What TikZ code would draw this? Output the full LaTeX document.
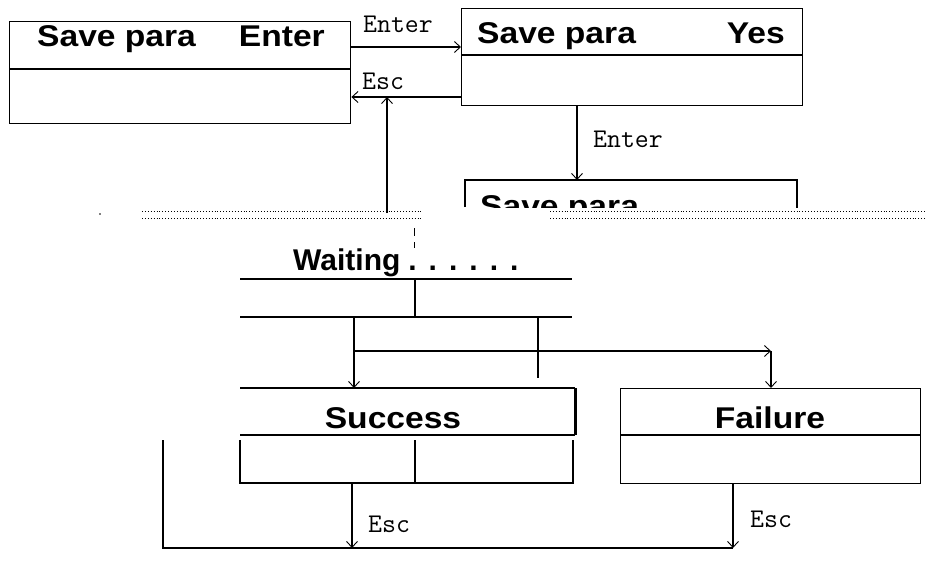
\documentclass[tikz,border=0pt]{standalone}
\usepackage{fontspec}
\setmainfont{Liberation Sans}
\newfontfamily\bigf[FakeStretch=1.12]{Liberation Sans}
\newfontfamily\dotsf[LetterSpace=40]{Liberation Sans}
\usetikzlibrary{arrows.meta}
\begin{document}
\begin{tikzpicture}[x=1pt,y=-1pt,
  boxline/.style={line width=1.4pt},
  conn/.style={line width=1.1pt},
  arr/.style={conn,-{Straight Barb[length=6pt,width=11pt,line width=0.9pt]}},
  big/.style={font=\bigf\fontsize{30}{30}\selectfont\bfseries, inner sep=0pt},
  wait/.style={font=\fontsize{30}{30}\selectfont\bfseries, inner sep=0pt},
  lbl/.style={font=\ttfamily\fontsize{27}{27}\selectfont, inner sep=0pt},
  dotl/.style={line width=0.9pt, dotted}]
\useasboundingbox (0,0) rectangle (926,560);
% box 1
\node[draw, boxline, minimum width=341pt, minimum height=102pt, inner sep=0pt, anchor=north west] (b1) at (9,21) {};
\draw[boxline] (b1.west |- 0,69) -- (b1.east |- 0,69);
\node[big, anchor=base west] (t1a) at (37,46) {Save para};
\node[big, anchor=base east] (t1b) at (325,46) {Enter};
% box 2
\node[draw, boxline, minimum width=341pt, minimum height=97pt, inner sep=0pt, anchor=north west] (b2) at (461,8) {};
\draw[boxline] (b2.west |- 0,55) -- (b2.east |- 0,55);
\node[big, anchor=base west] (t2a) at (477,43) {Save para};
\node[big, anchor=base east] (t2b) at (785,43) {Yes};
% box 1 <-> box 2
\draw[arr] (b1.east |- 0,47) -- (b2.west |- 0,47);
\node[lbl, anchor=base] (le1) at (398,32) {Enter};
\draw[arr] (b2.west |- 0,97) -- (b1.east |- 0,97);
\node[lbl, anchor=base west] (le2) at (362,89) {Esc};
\coordinate (upst) at (387,213);
\coordinate (upen) at (387,97);
\draw[arr] (upst) -- (upen);
% box 3 (cut)
\coordinate (b3top) at (577,180);
\draw[arr] (b2.south -| b3top) -- (b3top);
\node[lbl, anchor=base west] (le3) at (593,147) {Enter};
\draw[boxline] (465,207) -- (465,180) -- (797,180) -- (797,208);
\begin{scope}
\clip (465,180) rectangle (797,207);
\node[big, anchor=base west] (t3) at (480,216) {Save para};
\end{scope}
% dotted band
\draw[dotl] (142,211) -- (423,211);
\draw[dotl] (142,218) -- (423,218);
\draw[dotl] (550,211) -- (926,211);
\draw[dotl] (550,218) -- (926,218);
\fill (100,214) circle (0.8pt);
\draw[line width=1pt] (414,228) -- (414,236);
\draw[line width=1pt] (414,242) -- (414,248);
% waiting
\node[wait, anchor=base west] (tw) at (293,270) {Waiting\hspace{8pt}{\dotsf ......}};
\draw[boxline] (240,279) -- (572,279);
\draw[boxline] (240,317) -- (572,317);
\draw[conn] (415,279) -- (415,317);
% success box
\node[inner sep=0pt, minimum width=335pt, minimum height=95pt, anchor=north west] (sb) at (240,388) {};
\draw[boxline] (sb.north west) -- (sb.north east);
\draw[line width=2.6pt] (sb.north east) -- (sb.east |- 0,435);
\draw[boxline] (sb.west |- 0,435) -- (sb.east |- 0,435);
\draw[boxline] (240,440) -- (240,483) -- (573,483) -- (573,440);
\draw[conn] (415,440) -- (415,483);
\node[big, anchor=base] (ts) at (393,428) {Success};
% failure box
\node[draw, boxline, inner sep=0pt, minimum width=300pt, minimum height=95pt, anchor=north west] (fb) at (620,388) {};
\draw[boxline] (fb.west |- 0,435) -- (fb.east |- 0,435);
\node[big, anchor=base] (tf) at (770,428) {Failure};
% branches
\coordinate (sin) at (354,388);
\coordinate (fin) at (771,388);
\draw[arr] (354,317) -- (sin);
\draw[conn] (538,317) -- (538,378);
\draw[arr] (354,351) -- (771,351);
\draw[arr] (771,351) -- (fin);
% bottom
\coordinate (sbot) at (352,548);
\coordinate (fbot) at (733,548);
\draw[arr] (sb.south -| sbot) -- (sbot);
\draw[arr] (fb.south -| fbot) -- (fbot);
\draw[conn] (163,440) -- (163,548) -- (fbot);
\node[lbl, anchor=base west] (le4) at (368,532) {Esc};
\node[lbl, anchor=base west] (le5) at (750,527) {Esc};
\end{tikzpicture}
\end{document}
